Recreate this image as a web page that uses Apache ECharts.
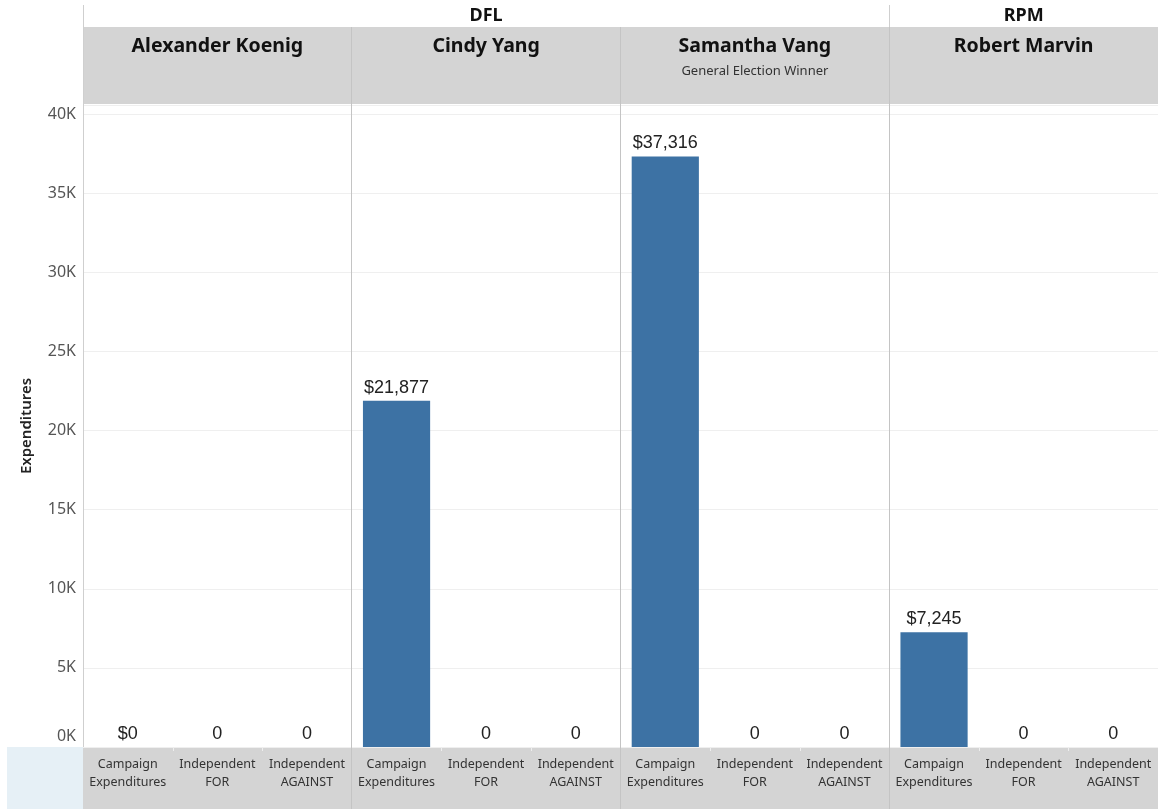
<!DOCTYPE html>
<html>
<head>
<meta charset="utf-8">
<script src="https://cdn.jsdelivr.net/npm/echarts@6/dist/echarts.min.js"></script>
<style>
html,body{margin:0;padding:0;background:#fff;}
#chart{width:1158px;height:809px;}
</style>
</head>
<body>
<div id="chart"></div>
<script>
// ---- data ----
const candidates = ['Alexander Koenig', 'Cindy Yang', 'Samantha Vang', 'Robert Marvin'];
const candidateParty = ['DFL', 'DFL', 'DFL', 'RPM'];
const candidateNote = ['', '', 'General Election Winner', ''];
const expenditureTypes = ['Campaign\nExpenditures', 'Independent\nFOR', 'Independent\nAGAINST'];
const campaignExpenditures = [0, 21877, 37316, 7245];
const independentFor = [0, 0, 0, 0];
const independentAgainst = [0, 0, 0, 0];
const yTickValues = [0, 5000, 10000, 15000, 20000, 25000, 30000, 35000, 40000];
const yMax = 40570;

// ---- layout ----
const W = 1158, H = 809;
const GRID_L = 83, GRID_R = 0, GRID_T = 105, GRID_B = 62;
const PLOT_W = W - GRID_L - GRID_R;
const PANEL_W = PLOT_W / candidates.length;
const HEADER_TOP = 27;

const xCats = [];
const values = [];
candidates.forEach((c, i) => {
  expenditureTypes.forEach((t, j) => {
    xCats.push(t);
    values.push([campaignExpenditures, independentFor, independentAgainst][j][i]);
  });
});

// party groups
const partyGroups = [];
candidateParty.forEach((p, i) => {
  const last = partyGroups[partyGroups.length - 1];
  if (last && last.name === p) last.end = i + 1;
  else partyGroups.push({ name: p, start: i, end: i + 1 });
});

const graphics = [];
// bottom gray band
graphics.push({ type: 'rect', z: -10, silent: true,
  shape: { x: GRID_L, y: H - GRID_B, width: PLOT_W, height: GRID_B },
  style: { fill: '#d4d4d4' } });
graphics.push({ type: 'rect', z: -10, silent: true,
  shape: { x: 7, y: H - GRID_B, width: GRID_L - 7, height: GRID_B },
  style: { fill: '#e6f0f6' } });
// header gray band
graphics.push({ type: 'rect', z: -10, silent: true,
  shape: { x: GRID_L, y: HEADER_TOP, width: PLOT_W, height: GRID_T - HEADER_TOP - 1 },
  style: { fill: '#d4d4d4' } });
// left axis line through header
graphics.push({ type: 'line', z: 5, silent: true,
  shape: { x1: GRID_L + 0.5, y1: 5, x2: GRID_L + 0.5, y2: H - GRID_B },
  style: { stroke: '#cfcfcf', lineWidth: 1 } });
// party labels & dividers
partyGroups.forEach((g) => {
  const x0 = GRID_L + g.start * PANEL_W, x1 = GRID_L + g.end * PANEL_W;
  graphics.push({ type: 'text', z: 5, silent: true,
    style: { text: g.name, x: (x0 + x1) / 2, y: 16, align: 'center', verticalAlign: 'middle',
      font: 'bold 18px "Noto Sans", sans-serif', fill: '#111' } });
  if (g.start > 0) {
    graphics.push({ type: 'line', z: 5, silent: true,
      shape: { x1: Math.floor(x0) + 0.5, y1: 5, x2: Math.floor(x0) + 0.5, y2: HEADER_TOP },
      style: { stroke: '#cfcfcf', lineWidth: 1 } });
  }
});
// candidate headers & panel dividers
candidates.forEach((c, i) => {
  const x0 = GRID_L + i * PANEL_W;
  graphics.push({ type: 'text', z: 5, silent: true,
    style: { text: c, x: x0 + PANEL_W / 2, y: 46, align: 'center', verticalAlign: 'middle',
      font: 'bold 19.5px "Noto Sans", sans-serif', fill: '#111' } });
  if (candidateNote[i]) {
    graphics.push({ type: 'text', z: 5, silent: true,
      style: { text: candidateNote[i], x: x0 + PANEL_W / 2, y: 71, align: 'center', verticalAlign: 'middle',
        font: '13px "Noto Sans", sans-serif', fill: '#333' } });
  }
  if (i > 0) {
    graphics.push({ type: 'line', z: 5, silent: true,
      shape: { x1: Math.floor(x0) + 0.5, y1: HEADER_TOP, x2: Math.floor(x0) + 0.5, y2: H },
      style: { stroke: '#c4c4c4', lineWidth: 1 } });
  }
  // small tick marks between sub categories in bottom band
  for (let j = 1; j < expenditureTypes.length; j++) {
    const xx = Math.round(x0 + j * PANEL_W / 3) + 0.5;
    graphics.push({ type: 'line', z: 5, silent: true,
      shape: { x1: xx, y1: H - GRID_B, x2: xx, y2: H - GRID_B + 4 },
      style: { stroke: '#eeeeee', lineWidth: 1 } });
  }
});

const chart = echarts.init(document.getElementById('chart'), null, { renderer: 'canvas' });
chart.setOption({
  animation: false,
  backgroundColor: '#fff',
  grid: { left: GRID_L, right: GRID_R, top: GRID_T, bottom: GRID_B, containLabel: false },
  xAxis: {
    type: 'category',
    data: xCats,
    axisLine: { show: false },
    axisTick: { show: false },
    axisLabel: {
      interval: 0, margin: 8, lineHeight: 18,
      fontFamily: '"Noto Sans", sans-serif', fontSize: 12.5, color: '#333'
    },
    splitLine: { show: false }
  },
  yAxis: {
    type: 'value',
    min: 0, max: yMax, interval: 5000,
    name: 'Expenditures',
    nameLocation: 'middle', nameGap: 49, nameRotate: 90,
    nameTextStyle: { fontFamily: '"Noto Sans", sans-serif', fontSize: 15, color: '#222', fontWeight: 600 },
    axisLine: { show: false },
    axisTick: { show: false },
    axisLabel: {
      margin: 7, showMaxLabel: false,
      fontFamily: '"Noto Sans", sans-serif', fontSize: 16, color: '#555',
      formatter: (v) => {
        if (yTickValues.indexOf(v) < 0) return '';
        const s = (v / 1000) + 'K';
        return v === 0 ? '{z|' + s + '}' : s;
      },
      rich: { z: { fontFamily: '"Noto Sans", sans-serif', fontSize: 16, color: '#555', padding: [0, 0, 22, 0] } }
    },
    splitLine: { show: true, lineStyle: { color: '#efefef', width: 1 } }
  },
  series: [{
    type: 'bar',
    data: values,
    barWidth: '75%',
    itemStyle: { color: '#3d72a4' },
    label: {
      show: true, position: 'top', distance: 4,
      fontFamily: '"Liberation Sans", Arial, sans-serif', fontSize: 18, color: '#222',
      formatter: (p) => (p.dataIndex % 3 === 0 ? '$' + p.value.toLocaleString('en-US') : String(p.value))
    }
  }],
  graphic: { elements: graphics }
});
</script>
</body>
</html>
